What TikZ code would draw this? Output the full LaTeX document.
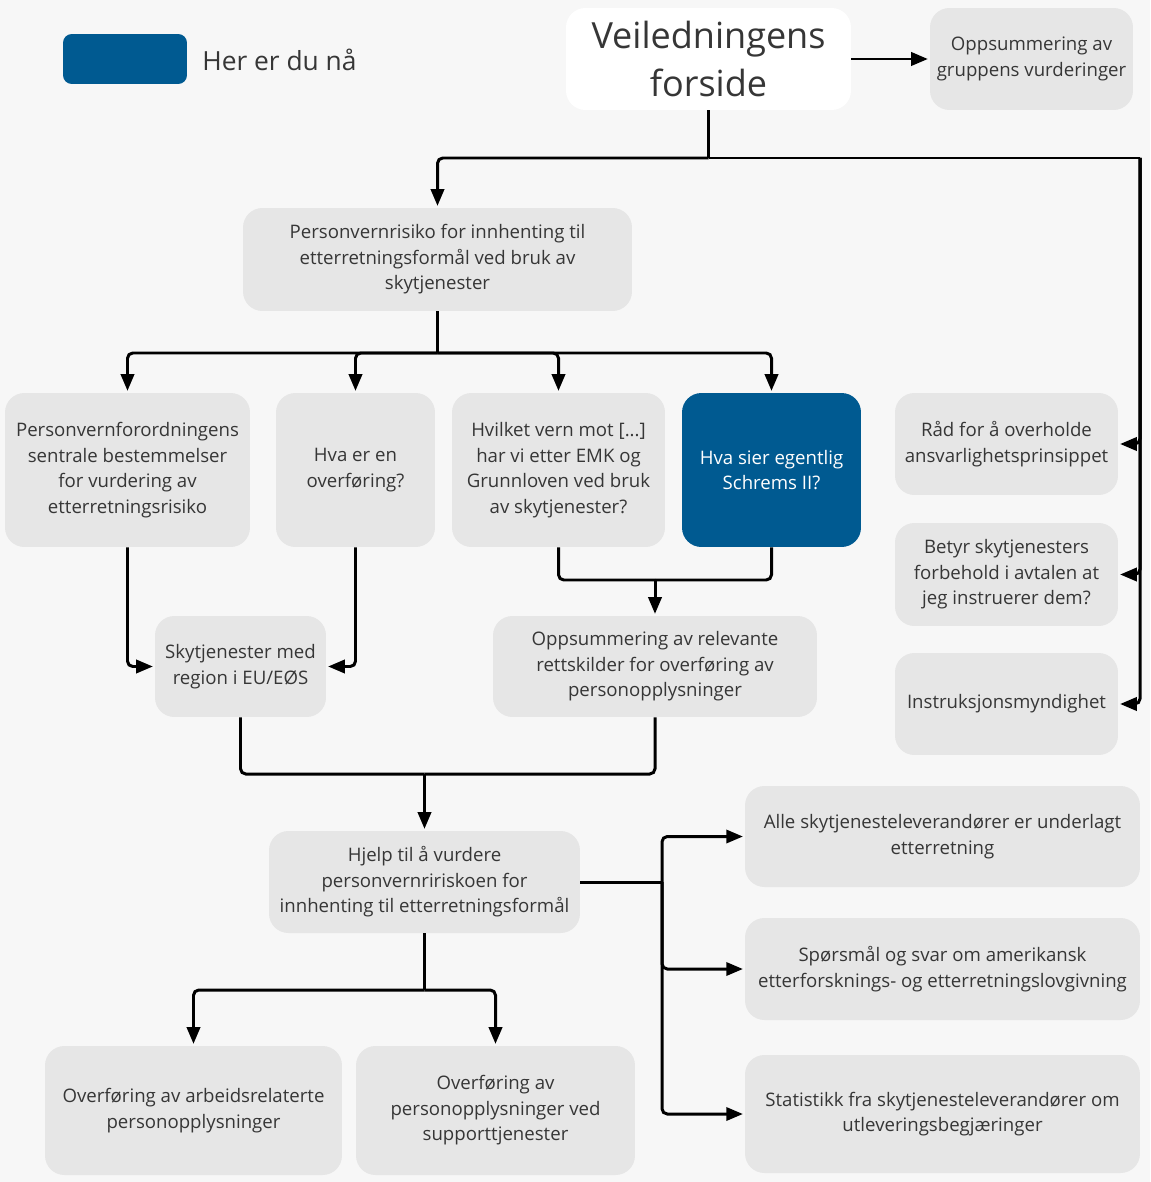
\documentclass[tikz,border=0pt]{standalone}
\usepackage{fontspec}
\setmainfont{Open Sans}
\usetikzlibrary{arrows.meta}
\definecolor{bggray}{HTML}{F7F7F7}
\definecolor{boxgray}{HTML}{E6E6E6}
\definecolor{textgray}{HTML}{363636}
\definecolor{hereblue}{HTML}{005A91}

\begin{document}
\begin{tikzpicture}[x=0.02cm,y=-0.02cm,
  box/.style={rounded corners=11pt,fill=boxgray,text=textgray,align=center,inner sep=0pt,
    font=\fontsize{10.6}{14.5}\selectfont},
  herebox/.style={box,fill=hereblue,text=white},
  line/.style={line width=1.7pt,rounded corners=3pt},
  arr/.style={line,-{Triangle[length=9.5pt,width=7.5pt]},shorten >=1pt}]
\fill[bggray] (0,0) rectangle (1150,1182);
\useasboundingbox (0,0) rectangle (1150,1182);

% legend
\node[herebox,rounded corners=5pt,minimum width=2.48cm,minimum height=1cm] (legend) at (125,59) {};
\node[anchor=west,inner sep=0pt,text=textgray,font=\fontsize{15}{18}\selectfont] (legendtxt) at (202,60) {Her er du nå};

% top
\node[box,fill=white,minimum width=5.7cm,minimum height=2.04cm,font=\fontsize{20.5}{27}\selectfont] (veil) at (708.5,59) {Veiledningens\\forside};
\node[box,minimum width=4.06cm,minimum height=2.04cm] (oppsgr) at (1031.5,59) {Oppsummering av\\gruppens vurderinger};
\node[box,minimum width=7.78cm,minimum height=2.06cm] (pvr) at (437.5,259.5) {Personvernrisiko for innhenting til\\etterretningsformål ved bruk av\\skytjenester};

% second row
\node[box,minimum width=4.9cm,minimum height=3.08cm] (pvf) at (127.5,470) {Personvernforordningens\\sentrale bestemmelser\\for vurdering av\\etterretningsrisiko};
\node[box,minimum width=3.18cm,minimum height=3.08cm] (hvaer) at (355.5,470) {Hva er en\\overføring?};
\node[box,minimum width=4.26cm,minimum height=3.08cm] (hvilket) at (558.5,470) {Hvilket vern mot [...]\\har vi etter EMK og\\Grunnloven ved bruk\\av skytjenester?};
\node[herebox,minimum width=3.58cm,minimum height=3.08cm] (schrems) at (771.5,470) {Hva sier egentlig\\Schrems II?};

% right column
\node[box,minimum width=4.46cm,minimum height=2.04cm] (raad) at (1006.5,444) {Råd for å overholde\\ansvarlighetsprinsippet};
\node[box,minimum width=4.46cm,minimum height=2.06cm] (betyr) at (1006.5,574.5) {Betyr skytjenesters\\forbehold i avtalen at\\jeg instruerer dem?};
\node[box,minimum width=4.46cm,minimum height=2.04cm] (instr) at (1006.5,704) {Instruksjonsmyndighet};

% third row
\node[box,minimum width=3.42cm,minimum height=2.02cm] (skyt) at (240.5,666.5) {Skytjenester med\\region i EU/EØS};
\node[box,minimum width=6.48cm,minimum height=2.02cm] (oppsrel) at (655,666.5) {Oppsummering av relevante\\rettskilder for overføring av\\personopplysninger};

\node[box,minimum width=6.22cm,minimum height=2.04cm] (hjelp) at (424.5,882) {Hjelp til å vurdere\\personvernririskoen for\\innhenting til etterretningsformål};

\node[box,minimum width=7.9cm,minimum height=2.02cm] (alle) at (942.5,836.5) {Alle skytjenesteleverandører er underlagt\\etterretning};
\node[box,minimum width=7.9cm,minimum height=2.04cm] (spm) at (942.5,969) {Spørsmål og svar om amerikansk\\etterforsknings- og etterretningslovgivning};
\node[box,minimum width=7.9cm,minimum height=2.36cm] (stat) at (942.5,1114) {Statistikk fra skytjenesteleverandører om\\utleveringsbegjæringer};

\node[box,minimum width=5.94cm,minimum height=2.58cm] (ovf1) at (193.5,1110.5) {Overføring av arbeidsrelaterte\\personopplysninger};
\node[box,minimum width=5.58cm,minimum height=2.58cm] (ovf2) at (495.5,1110.5) {Overføring av\\personopplysninger ved\\supporttjenester};

% junctions
\coordinate (j1) at (708.5,158);
\coordinate (j2) at (1140,158);
\coordinate (j3) at (437.5,353);
\coordinate (j4) at (655,580);
\coordinate (j5) at (424.5,774);
\coordinate (j6) at (662,882);
\coordinate (j7) at (424.5,990);

% connectors
\draw[arr] (veil.east) -- (oppsgr.west);
\draw[line] (veil.south) -- (j1);
\draw[arr] (j1) -| (pvr.north);
\draw[line] (j1) -- (j2);
\draw[arr] (j2) |- (raad.east);
\draw[arr] (j2) |- (betyr.east);
\draw[arr] (j2) |- (instr.east);

\draw[line] (pvr.south) -- (j3);
\draw[arr] (j3) -| (pvf.north);
\draw[arr] (j3) -| (hvaer.north);
\draw[arr] (j3) -| (hvilket.north);
\draw[arr] (j3) -| (schrems.north);

\draw[arr] (pvf.south) |- (skyt.west);
\draw[arr] (hvaer.south) |- (skyt.east);
\draw[line] (hvilket.south) |- (j4);
\draw[line] (schrems.south) |- (j4);
\draw[arr] (j4) -- (oppsrel.north);

\draw[line] (skyt.south) |- (j5);
\draw[line] (oppsrel.south) |- (j5);
\draw[arr] (j5) -- (hjelp.north);

\draw[line] (hjelp.east) -- (j6);
\draw[arr] (j6) |- (alle.west);
\draw[arr] (j6) |- (spm.west);
\draw[arr] (j6) |- (stat.west);

\draw[line] (hjelp.south) -- (j7);
\draw[arr] (j7) -| (ovf1.north);
\draw[arr] (j7) -| (ovf2.north);
\end{tikzpicture}
\end{document}
